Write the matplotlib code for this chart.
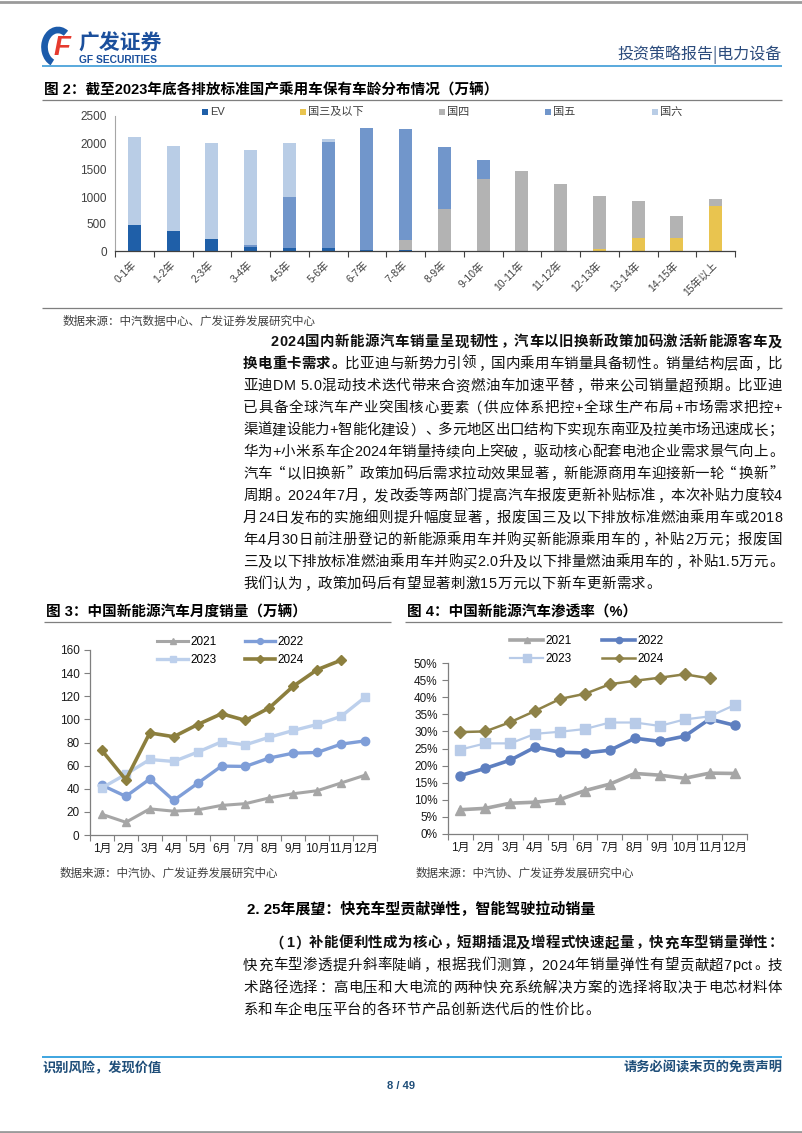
import matplotlib
matplotlib.use('Agg')
import matplotlib.pyplot as plt
import numpy as np
from matplotlib.patches import Rectangle, Arc
from matplotlib.font_manager import FontProperties, findfont
from matplotlib.ft2font import FT2Font

W, H = 802, 1133
CJK = 'Noto Sans CJK SC'
LAT = 'Liberation Sans'
plt.rcParams['font.family'] = [LAT, CJK]

# ---- figure 2: vehicle parc by age and emission standard (万辆)
ages = ['0-1年', '1-2年', '2-3年', '3-4年', '4-5年', '5-6年', '6-7年', '7-8年',
        '8-9年', '9-10年', '10-11年', '11-12年', '12-13年', '13-14年', '14-15年', '15年以上']
ev = [480, 370, 222, 80, 55, 55, 20, 10, 5, 0, 0, 0, 0, 0, 0, 0]
guo3 = [0, 0, 0, 0, 0, 0, 0, 0, 0, 0, 0, 0, 40, 246, 246, 825]
guo4 = [0, 0, 0, 0, 0, 0, 0, 200, 782, 1330, 1478, 1244, 970, 678, 401, 135]
guo5 = [0, 0, 0, 30, 936, 1971, 2252, 2050, 1134, 357, 0, 0, 0, 0, 0, 0]
guo6 = [1630, 1580, 1785, 1756, 1016, 43, 0, 0, 0, 0, 0, 0, 0, 0, 0, 0]
std_names = ['EV', '国三及以下', '国四', '国五', '国六']

# ---- figure 3: monthly NEV sales (万辆)
months = ['1月', '2月', '3月', '4月', '5月', '6月', '7月', '8月', '9月', '10月', '11月', '12月']
sales_2021 = [17.9, 11.0, 22.6, 20.6, 21.7, 25.6, 27.1, 32.1, 35.7, 38.3, 45.0, 51.7]
sales_2022 = [43.1, 33.4, 48.4, 29.9, 44.7, 59.6, 59.3, 66.6, 70.8, 71.4, 78.6, 81.4]
sales_2023 = [40.8, 52.5, 65.3, 63.6, 71.7, 80.6, 78.0, 84.6, 90.4, 95.6, 102.6, 119.1]
sales_2024 = [73.1, 47.7, 88.3, 85.0, 95.5, 104.9, 99.1, 110.0, 128.7, 143.0, 151.2]

# ---- figure 4: NEV penetration
pen_2021 = [7.1, 7.5, 9.0, 9.3, 10.1, 12.7, 14.6, 17.7, 17.2, 16.3, 17.8, 17.7]
pen_2022 = [17.1, 19.2, 21.6, 25.4, 23.9, 23.7, 24.5, 28.0, 27.1, 28.6, 33.6, 31.8]
pen_2023 = [24.7, 26.5, 26.5, 29.3, 29.9, 30.7, 32.6, 32.6, 31.6, 33.5, 34.4, 37.7]
pen_2024 = [29.8, 30.0, 32.7, 36.0, 39.5, 41.0, 43.8, 44.8, 45.7, 46.7, 45.5]
years = ['2021', '2022', '2023', '2024']

body_lines = [
    [("2024国内新能源汽车销量呈现韧性，汽车以旧换新政策加码激活新能源客车及", True)],
    [("换电重卡需求。", True), ("比亚迪与新势力引领，国内乘用车销量具备韧性。销量结构层面，比", False)],
    [("亚迪DM 5.0混动技术迭代带来合资燃油车加速平替，带来公司销量超预期。比亚迪", False)],
    [("已具备全球汽车产业突围核心要素（供应体系把控+全球生产布局+市场需求把控+", False)],
    [("渠道建设能力+智能化建设）、多元地区出口结构下实现东南亚及拉美市场迅速成长；", False)],
    [("华为+小米系车企2024年销量持续向上突破，驱动核心配套电池企业需求景气向上。", False)],
    [("汽车“以旧换新”政策加码后需求拉动效果显著，新能源商用车迎接新一轮“换新”", False)],
    [("周期。2024年7月，发改委等两部门提高汽车报废更新补贴标准，本次补贴力度较4", False)],
    [("月24日发布的实施细则提升幅度显著，报废国三及以下排放标准燃油乘用车或2018", False)],
    [("年4月30日前注册登记的新能源乘用车并购买新能源乘用车的，补贴2万元；报废国", False)],
    [("三及以下排放标准燃油乘用车并购买2.0升及以下排量燃油乘用车的，补贴1.5万元。", False)],
    [("我们认为，政策加码后有望显著刺激15万元以下新车更新需求。", False)],
]
sec_lines = [
    [("（1）补能便利性成为核心，短期插混及增程式快速起量，快充车型销量弹性：", True)],
    [("快充车型渗透提升斜率陡峭，根据我们测算，2024年销量弹性有望贡献超7pct。技", False)],
    [("术路径选择：高电压和大电流的两种快充系统解决方案的选择将取决于电芯材料体", False)],
    [("系和车企电压平台的各环节产品创新迭代后的性价比。", False)],
]

fig = plt.figure(figsize=(W / 100, H / 100), dpi=100)
page = fig.add_axes([0, 0, 1, 1])
page.set_xlim(0, W)
page.set_ylim(H, 0)
page.axis('off')


def px_axes(x0, y0, x1, y1):
    return fig.add_axes([x0 / W, 1 - y1 / H, (x1 - x0) / W, (y1 - y0) / H])


_fonts = {}


def advance(ch, bold, size):
    fam = LAT if ord(ch) < 128 else CJK
    key = (fam, bold)
    if key not in _fonts:
        path = findfont(FontProperties(family=fam, weight='bold' if bold else 'normal'))
        _fonts[key] = FT2Font(path)
    f = _fonts[key]
    f.set_size(size, 100)
    g = f.load_char(ord(ch))
    return g.linearHoriAdvance / 65536


def draw_line(x0, x1, yc, segs, justify=True, size=10.4, color='#111111'):
    # lay out characters one by one so full lines are justified like the report
    chars = [(ch, b) for text, b in segs for ch in text]
    widths = [advance(ch, b, size) for ch, b in chars]
    gap = (x1 - x0 - sum(widths)) / (len(chars) - 1) if justify else 0.4
    yb = yc + size * 100 / 72 * 0.36
    x = x0
    for (ch, b), w in zip(chars, widths):
        fam = LAT if ord(ch) < 128 else CJK
        kw = dict(va='baseline', fontsize=size, family=fam, color=color,
                  fontweight='bold' if b else 'normal')
        if ch in '，。、；：）”':
            page.text(x + 0.1 * w, yb, ch, ha='left', **kw)
        elif ch in '（“':
            page.text(x + 0.9 * w, yb, ch, ha='right', **kw)
        elif ch != ' ':
            page.text(x + w / 2, yb, ch, ha='center', **kw)
        x += w + gap


def hline(y, x0, x1, color, lw):
    page.plot([x0, x1], [y, y], color=color, lw=lw, solid_capstyle='butt')


LEFT, RIGHT = 42, 782
TXT_L = 243

# ---- page header
page.plot([0, W], [1.5, 1.5], color='#9a9a9a', lw=2)
page.plot([0, W], [1131.5, 1131.5], color='#9a9a9a', lw=2)
page.add_patch(Arc((58, 47), 27, 34, theta1=110, theta2=300, color='#1c5baa', lw=4.8))
page.text(62, 48, 'F', fontsize=20, fontweight='bold', style='italic', color='#e63a2e',
          ha='center', va='center', family=LAT)
page.text(78, 43, '广发证券', fontsize=15, fontweight='bold', color='#1b4f9c', va='center', family=CJK)
page.text(79, 60, 'GF SECURITIES', fontsize=7.4, fontweight='bold', color='#1b4f9c', va='center', family=LAT)
page.text(RIGHT, 54, '投资策略报告|电力设备', fontsize=11.5, color='#2b4b7c', ha='right', va='center', family=CJK)
hline(66, LEFT, RIGHT, '#4ba3da', 1.3)

# ---- figure 2
page.text(LEFT + 2, 90, '图 2：截至2023年底各排放标准国产乘用车保有车龄分布情况（万辆）', fontsize=10.5,
          fontweight='bold', va='center')
hline(99.5, LEFT, RIGHT, '#7f7f7f', 0.9)
hline(308, LEFT, RIGHT, '#7f7f7f', 0.9)

ax2 = px_axes(115, 116, 735, 251)
x = np.arange(len(ages))
colors2 = ['#1f5fa8', '#e9c44f', '#b3b3b3', '#7196cb', '#b9cde6']
bottom = np.zeros(len(ages))
for vals, col in zip([ev, guo3, guo4, guo5, guo6], colors2):
    ax2.bar(x, vals, width=0.34, bottom=bottom, color=col, linewidth=0)
    bottom += np.array(vals)
ax2.set_xlim(-0.5, len(ages) - 0.5)
ax2.set_ylim(0, 2500)
ax2.set_yticks(np.arange(0, 2501, 500))
ax2.set_xticks(np.arange(-0.5, len(ages), 1))
ax2.set_xticklabels([])
ax2.set_xticks(x, minor=True)
ax2.set_xticklabels(ages, minor=True, rotation=45, ha='right', va='center', rotation_mode='anchor',
                    fontsize=7.5, color='#404040')
ax2.tick_params(axis='x', which='minor', length=0, pad=9)
ax2.tick_params(axis='x', which='major', length=4, color='#404040', width=0.8)
ax2.tick_params(axis='y', length=0, labelsize=8.5, labelcolor='#404040', pad=6)
for s in ['top', 'right']:
    ax2.spines[s].set_visible(False)
ax2.spines['left'].set_color('#a6a6a6')
ax2.spines['left'].set_linewidth(0.8)
ax2.spines['bottom'].set_color('#404040')
ax2.spines['bottom'].set_linewidth(0.9)

for name, col, lx in zip(std_names, colors2, [205, 303, 442, 548, 655]):
    page.add_patch(Rectangle((lx - 3, 109), 6, 6, color=col, lw=0))
    page.text(lx + 5, 112, name, fontsize=8, color='#404040', va='center')

page.text(63, 321, '数据来源：中汽数据中心、广发证券发展研究中心', fontsize=8.3, color='#404040', va='center',
          family=CJK)

# ---- body text
for i, segs in enumerate(body_lines):
    x0 = TXT_L + 28 if i == 0 else TXT_L
    draw_line(x0, RIGHT, 341 + i * 22.0, segs, justify=(i < len(body_lines) - 1))

# ---- figure 3 & 4 titles
page.text(LEFT + 4, 612, '图 3：中国新能源汽车月度销量（万辆）', fontsize=10.5, fontweight='bold', va='center')
page.text(407, 612, '图 4：中国新能源汽车渗透率（%）', fontsize=10.5, fontweight='bold', va='center')
hline(622, LEFT + 2, 391, '#7f7f7f', 0.9)
hline(622, 405, RIGHT, '#7f7f7f', 0.9)


def style_line_axes(ax, n):
    ax.set_xlim(-0.5, n - 0.5)
    ax.set_xticks(np.arange(-0.5, n, 1))
    ax.set_xticklabels([])
    ax.set_xticks(np.arange(n), minor=True)
    ax.set_xticklabels(months, minor=True, fontsize=8.5, color='#1a1a1a')
    ax.tick_params(axis='x', which='minor', length=0, pad=6)
    ax.tick_params(axis='x', which='major', length=4, color='#7f7f7f', width=0.8)
    ax.tick_params(axis='y', length=4, color='#7f7f7f', width=0.8, labelsize=8.5, labelcolor='#1a1a1a')
    for s in ['top', 'right']:
        ax.spines[s].set_visible(False)
    for s in ['left', 'bottom']:
        ax.spines[s].set_color('#7f7f7f')
        ax.spines[s].set_linewidth(0.9)


mx = np.arange(len(months))
ax3 = px_axes(90, 650, 377, 835)
l1, = ax3.plot(mx, sales_2021, color='#a6a6a6', lw=2.2, marker='^', ms=6)
l2, = ax3.plot(mx, sales_2022, color='#7f9ed8', lw=2.4, marker='o', ms=6)
l3, = ax3.plot(mx, sales_2023, color='#bdd0ec', lw=2.4, marker='s', ms=5.5)
l4, = ax3.plot(mx[:len(sales_2024)], sales_2024, color='#8c7f3e', lw=2.6, marker='D', ms=5.5)
ax3.set_ylim(0, 160)
ax3.set_yticks(np.arange(0, 161, 20))
style_line_axes(ax3, len(months))
ax3.legend([l1, l3, l2, l4], [years[0], years[2], years[1], years[3]], ncol=2, loc='center',
           bbox_to_anchor=(0.49, 0.995), frameon=False, fontsize=8.5, handlelength=2.6,
           columnspacing=2.4, handletextpad=0.2, labelspacing=0.55, markerscale=0.7)

ax4 = px_axes(448, 663, 747, 834)
k1, = ax4.plot(mx, np.array(pen_2021) / 100, color='#a6a6a6', lw=2.6, marker='^', ms=6.5)
k2, = ax4.plot(mx, np.array(pen_2022) / 100, color='#5e7fc0', lw=2.6, marker='o', ms=6.5)
k3, = ax4.plot(mx, np.array(pen_2023) / 100, color='#b8cbe8', lw=1.6, marker='s', ms=7.5)
k4, = ax4.plot(mx[:len(pen_2024)], np.array(pen_2024) / 100, color='#8e8248', lw=1.8, marker='D', ms=6)
ax4.set_ylim(0, 0.5)
ax4.set_yticks(np.arange(0, 0.501, 0.05))
ax4.set_yticklabels([f'{int(round(v * 100))}%' for v in np.arange(0, 0.501, 0.05)])
style_line_axes(ax4, len(months))
ax4.legend([k1, k3, k2, k4], [years[0], years[2], years[1], years[3]], ncol=2, loc='center',
           bbox_to_anchor=(0.465, 1.076), frameon=False, fontsize=8.5, handlelength=2.8,
           columnspacing=2.6, handletextpad=0.2, labelspacing=0.55, markerscale=0.7)

page.text(60, 873, '数据来源：中汽协、广发证券发展研究中心', fontsize=8.3, color='#404040', va='center', family=CJK)
page.text(416, 873, '数据来源：中汽协、广发证券发展研究中心', fontsize=8.3, color='#404040', va='center', family=CJK)

# ---- section 2
page.text(247, 909, '2. 25年展望：快充车型贡献弹性，智能驾驶拉动销量', fontsize=10.8, fontweight='bold',
          va='center')
for i, segs in enumerate(sec_lines):
    x0 = TXT_L + 28 if i == 0 else TXT_L
    draw_line(x0, RIGHT, 942 + i * 22.3, segs, justify=(i < len(sec_lines) - 1))

# ---- footer
hline(1057, LEFT, RIGHT, '#3da5e0', 1.4)
page.text(LEFT, 1068, '识别风险，发现价值', fontsize=9.5, fontweight='bold', color='#1f4e79', va='center',
          family=CJK)
page.text(RIGHT, 1068, '请务必阅读末页的免责声明', fontsize=9.5, fontweight='bold', color='#1f4e79', ha='right',
          va='center', family=CJK)
page.text(W / 2, 1086, '8 / 49', fontsize=8, fontweight='bold', color='#1f4e79', ha='center', va='center',
          family=LAT)

fig.savefig('out.png', dpi=100)
